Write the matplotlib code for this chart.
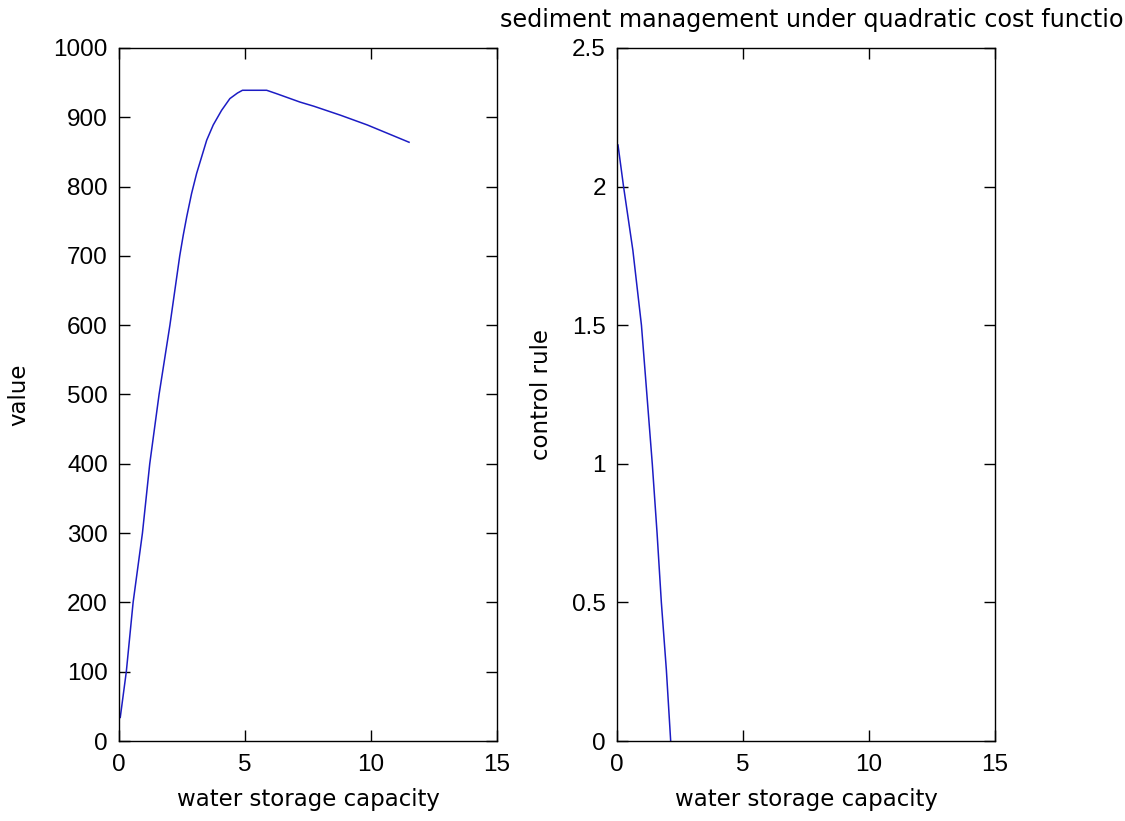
import matplotlib
matplotlib.use("Agg")
import matplotlib.pyplot as plt

# value function (left panel)
storage_value_x = [0.05, 0.29, 0.56, 0.93, 1.22, 1.59, 2.02, 2.41, 2.55, 2.69, 2.88,
                   3.08, 3.28, 3.48, 3.74, 4.07, 4.40, 4.70, 4.90, 5.86, 6.26, 7.18,
                   7.73, 8.79, 9.85, 10.78, 11.51]
value = [34, 100, 200, 300, 400, 500, 600, 700, 730, 757, 790, 819, 843, 867, 889,
         910, 927, 935, 939, 939, 934, 922, 916, 903, 889, 875, 864]

# control rule (right panel)
storage_rule_x = [0.04, 0.26, 0.63, 0.97, 1.16, 1.40, 1.59, 1.76, 1.96, 2.13]
control = [2.15, 2.0, 1.77, 1.5, 1.28, 1.0, 0.75, 0.5, 0.255, 0.0]

xticks = [0, 5, 10, 15]
yticks_left = [0, 100, 200, 300, 400, 500, 600, 700, 800, 900, 1000]
yticks_right = [0, 0.5, 1, 1.5, 2, 2.5]
ytick_right_labels = ['0', '0.5', '1', '1.5', '2', '2.5']

tick_font = ['Liberation Sans', 'DejaVu Sans']
text_font = ['DejaVu Sans']
plt.rcParams['font.family'] = tick_font

fig = plt.figure(figsize=(11.25, 8.21), dpi=100)
ax1 = fig.add_axes([119/1125, 80/821, 378/1125, 693/821])
ax2 = fig.add_axes([617/1125, 80/821, 378/1125, 693/821])

line_color = '#1c1cc4'
ax1.plot(storage_value_x, value, color=line_color, lw=1.1)
ax2.plot(storage_rule_x, control, color=line_color, lw=1.1)

tick_fs = 17.5
label_fs = 16.5
for ax in (ax1, ax2):
    ax.set_xlim(0, 15)
    ax.set_xticks(xticks)
    ax.tick_params(direction='in', top=True, right=True, length=8, width=1,
                   labelsize=tick_fs)
    ax.tick_params(axis='x', pad=9)
    ax.tick_params(axis='y', pad=8)
    for s in ax.spines.values():
        s.set_linewidth(1)
    ax.set_xlabel('water storage capacity', fontsize=label_fs, family=text_font)
    ax.xaxis.set_label_coords(0.5, -0.068)

ax1.set_ylim(0, 1000)
ax1.set_yticks(yticks_left)
ax1.set_ylabel('value', fontsize=label_fs, family=text_font)
ax1.yaxis.set_label_coords(-0.235, 0.5)

ax2.set_ylim(0, 2.5)
ax2.set_yticks(yticks_right)
ax2.set_yticklabels(ytick_right_labels)
ax2.set_ylabel('control rule', fontsize=label_fs, family=text_font)
ax2.yaxis.set_label_coords(-0.168, 0.5)
ax2.set_title('sediment management under quadratic cost function',
              fontsize=17.2, family=text_font, pad=15, x=0.535)

fig.savefig('out.png', dpi=100)
